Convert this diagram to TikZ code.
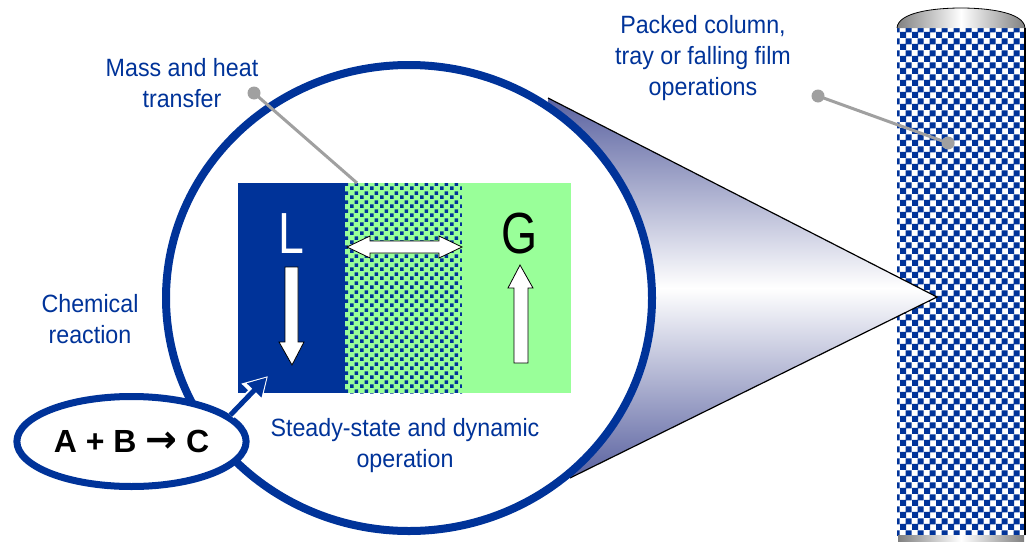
\documentclass[tikz,border=0pt]{standalone}
\usepackage{fontspec}
\setmainfont{Liberation Sans}[FakeStretch=0.93]
\newfontfamily\narrowfont{Liberation Sans}[FakeStretch=0.8]
\newfontfamily\rxnfont{Liberation Sans}
\newfontfamily\arrowfont{DejaVu Sans}
\usetikzlibrary{patterns,shapes.geometric,arrows.meta}

\definecolor{dblue}{RGB}{0,51,153}
\definecolor{lgreen}{RGB}{153,255,153}
\definecolor{leadgray}{RGB}{160,160,160}
\definecolor{coneblue}{RGB}{90,98,160}
\definecolor{capgray}{RGB}{128,128,128}

% small squares of the film zone
\pgfdeclarepatternformonly{filmdots}{\pgfpointorigin}{\pgfpoint{10pt}{9pt}}{\pgfpoint{10pt}{9pt}}{%
  \pgfpathrectangle{\pgfpointorigin}{\pgfpoint{4pt}{4pt}}%
  \pgfpathrectangle{\pgfpoint{5pt}{4.5pt}}{\pgfpoint{4pt}{4pt}}%
  \pgfusepath{fill}}
% packing of the column
\pgfdeclarepatternformonly{packing}{\pgfpointorigin}{\pgfpoint{12pt}{12pt}}{\pgfpoint{12pt}{12pt}}{%
  \pgfpathrectangle{\pgfpointorigin}{\pgfpoint{6.5pt}{6.5pt}}%
  \pgfpathrectangle{\pgfpoint{6pt}{6pt}}{\pgfpoint{6.5pt}{6.5pt}}%
  \pgfusepath{fill}}

\begin{document}
\begin{tikzpicture}[x=1pt,y=-1pt,
    panel/.style={minimum height=210pt,anchor=north west,inner sep=0pt,outer sep=0pt},
    bluetext/.style={text=dblue,font=\fontsize{25}{31}\selectfont,align=center,inner sep=0pt},
    bigletter/.style={font=\narrowfont\fontsize{58}{58}\selectfont,inner sep=0pt},
    leadline/.style={draw=leadgray,line width=3pt},
    flowarrow/.style={fill=white,draw=black,line width=0.8pt,line join=miter}]
  \useasboundingbox (0,0) rectangle (1033,541);

  % column
  \node[minimum width=128pt,minimum height=507pt,inner sep=0pt,outer sep=0pt,
        fill=white,postaction={pattern=packing,pattern color=dblue}] (column) at (961,281.5) {};
  \shade[left color=capgray,right color=capgray,middle color=white]
    (897,28) .. controls (898,12) and (935,8) .. (961,8)
    .. controls (987,8) and (1024,12) .. (1025,28) -- cycle;
  \draw[line width=0.8pt] (897,28) .. controls (898,12) and (935,8) .. (961,8)
    .. controls (987,8) and (1024,12) .. (1025,28);
  \shade[left color=capgray,right color=capgray,middle color=white] (898,535) rectangle (1024,541);
  \draw[line width=2pt] (column.north east) -- (column.south east);

  % cone of the zoom
  \coordinate (apex) at (937,297);
  \coordinate (ctop) at (548,98);
  \coordinate (cbot) at (570,478);
  \shade[top color=coneblue,bottom color=coneblue,middle color=white] (ctop) -- (apex) -- (cbot) -- cycle;
  \draw[line width=1.2pt] (ctop) -- (apex) -- (cbot);

  % zoomed part
  \node[ellipse,draw=dblue,line width=8pt,fill=white,minimum width=486pt,minimum height=466pt] (zoom) at (409,298) {};
  \node[panel,fill=dblue,minimum width=107pt] (liquid) at (238,183) {};
  \node[panel,fill=lgreen,minimum width=117pt,postaction={pattern=filmdots,pattern color=dblue}] (film) at (345,183) {};
  \node[panel,fill=lgreen,minimum width=109pt] (gas) at (462,183) {};

  \node[bigletter,text=white] (L) at (291,234) {L};
  \node[bigletter,text=black] (G) at (520,234) {G};
  \draw[flowarrow] (285,267) -- (298,267) -- (298,342) -- (304,342) -- (292,365)
    -- (279,342) -- (285,342) -- cycle;
  \draw[flowarrow] (514,363) -- (528,363) -- (528,288) -- (533,288) -- (520,265)
    -- (508,288) -- (514,288) -- cycle;
  \draw[flowarrow] (347,247) -- (370,236) -- (370,241) -- (439,241) -- (439,236) -- (462,247)
    -- (439,258) -- (439,253) -- (370,253) -- (370,258) -- cycle;

  % leader of the film
  \coordinate (mhdot) at (254,93);
  \coordinate (mhend) at (357,183);
  \draw[leadline] (mhdot) -- (mhend);
  \fill[leadgray] (mhdot) circle[radius=6.5pt];

  % reaction
  \node[ellipse,draw=dblue,line width=7pt,fill=white,minimum width=226pt,minimum height=90pt,
        font=\rxnfont\bfseries\fontsize{32}{38}\selectfont] (rxn) at (131.5,441.5)
        {A + B {\arrowfont\bfseries\fontsize{38}{38}\selectfont →} C};
  \coordinate (rxntip) at (268,376);
  \draw[white,line width=9pt,-{Triangle[length=24pt,width=26pt]}] (rxn.15) -- (rxntip);
  \draw[dblue,line width=5pt,shorten >=2pt,-{Triangle[length=18pt,width=19pt]}] (rxn.15) -- (rxntip);

  % leader of the column
  \coordinate (pcdot) at (818,96);
  \coordinate (pcend) at (948,143);
  \draw[leadline] (pcdot) -- (pcend);
  \fill[leadgray] (pcdot) circle[radius=6.5pt];
  \fill[leadgray] (pcend) circle[radius=6.5pt];

  % texts
  \node[bluetext] (mhtext) at (182,83) {Mass and heat\\transfer};
  \node[bluetext] (pctext) at (703,58) {Packed column,\\tray or falling film\\operations};
  \node[bluetext] (crtext) at (90,319) {Chemical\\reaction};
  \node[bluetext] (sdtext) at (405,446) {Steady-state and dynamic\\operation};
\end{tikzpicture}
\end{document}
